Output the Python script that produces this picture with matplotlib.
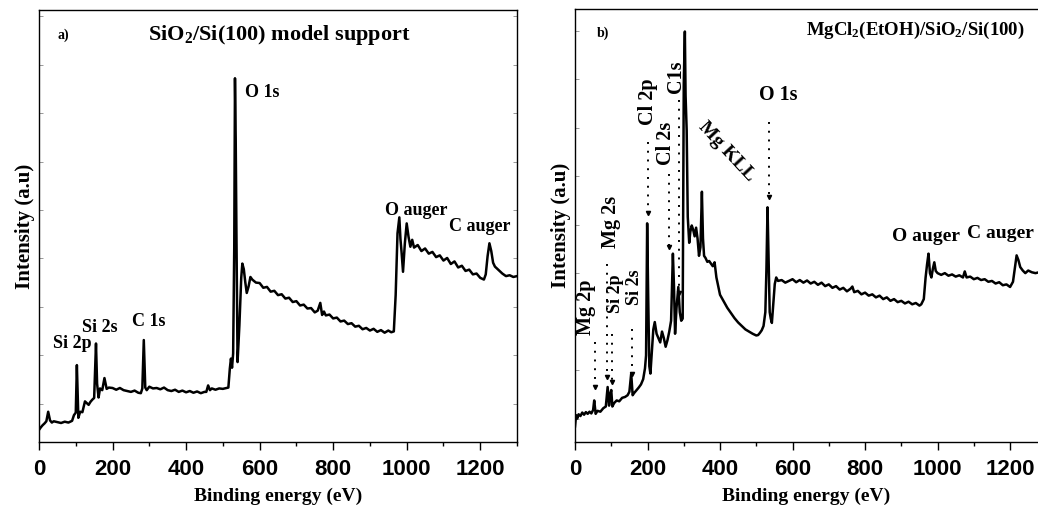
import numpy as np
import matplotlib
matplotlib.use("Agg")
import matplotlib.pyplot as plt
from matplotlib.ticker import MultipleLocator

plt.rcParams["mathtext.fontset"] = "custom"
plt.rcParams["mathtext.default"] = "bf"
plt.rcParams["mathtext.bf"] = "Liberation Serif:bold"

# panel a) SiO2/Si(100): binding energy (eV) / intensity (a.u.)
energy_a = [0, 5, 10, 15, 20, 25, 30, 35, 40, 50,
            60, 70, 80, 90, 95, 100, 103, 107, 112, 118,
            125, 130, 135, 140, 145, 150, 155, 158, 162, 166,
            172, 178, 184, 190, 200, 210, 220, 230, 240, 250,
            260, 270, 277, 281, 285, 289, 293, 300, 310, 320,
            330, 340, 350, 360, 370, 380, 390, 400, 410, 420,
            430, 440, 450, 455, 460, 465, 470, 480, 490, 500,
            510, 515, 519, 522, 525, 528, 531, 533, 535, 537,
            540, 545, 550, 553, 557, 561, 565, 570, 575, 580,
            590, 600, 610, 620, 630, 640, 650, 660, 670, 680,
            690, 700, 710, 720, 730, 740, 750, 758, 765, 770,
            775, 780, 790, 800, 810, 820, 830, 840, 850, 860,
            870, 880, 890, 900, 910, 920, 930, 940, 950, 958,
            965, 970, 975, 980, 983, 986, 990, 995, 1000, 1005,
            1010, 1015, 1020, 1030, 1040, 1050, 1060, 1070, 1080, 1090,
            1100, 1110, 1120, 1130, 1140, 1150, 1160, 1170, 1180, 1190,
            1200, 1205, 1210, 1215, 1220, 1225, 1230, 1235, 1240, 1250,
            1260, 1270, 1280, 1290, 1300]
inten_a = [2.8, 3.4, 3.9, 4.3, 4.8, 7.0, 5.0, 4.5, 4.8, 4.6,
           4.4, 4.7, 4.5, 4.9, 6.2, 6.8, 17.8, 5.6, 7.0, 6.9,
           9.4, 9.0, 8.6, 9.3, 9.8, 10.2, 22.8, 13.5, 10.3, 12.4,
           12.0, 14.8, 12.3, 12.6, 12.5, 12.1, 12.5, 12.0, 11.8, 11.6,
           11.9, 11.4, 11.3, 12.4, 23.6, 12.6, 12.0, 12.8, 12.4, 12.5,
           12.2, 12.6, 12.0, 11.8, 12.1, 11.6, 11.9, 11.5, 11.8, 11.4,
           11.7, 11.3, 11.6, 11.6, 13.1, 12.0, 12.4, 12.1, 12.4, 12.3,
           12.5, 12.6, 17.0, 19.3, 17.2, 20.5, 45.0, 84.2, 70.0, 48.0,
           18.5, 27.0, 38.0, 41.3, 40.0, 37.0, 34.5, 36.0, 38.2, 37.6,
           36.9, 36.8, 35.7, 35.9, 34.8, 35.0, 34.0, 34.2, 33.2, 33.4,
           32.4, 32.6, 31.6, 31.8, 30.9, 31.0, 30.0, 30.4, 32.2, 29.4,
           30.2, 29.3, 29.5, 28.6, 28.8, 27.9, 28.1, 27.3, 27.5, 26.7,
           26.9, 26.1, 26.4, 25.8, 26.2, 25.5, 25.9, 25.3, 25.8, 25.4,
           25.6, 34.0, 48.3, 52.0, 47.0, 44.0, 39.4, 46.0, 50.6, 47.5,
           45.2, 46.8, 45.0, 45.6, 44.2, 44.8, 43.6, 44.0, 42.8, 43.2,
           42.0, 42.6, 41.2, 41.8, 40.4, 40.8, 39.6, 39.9, 38.8, 39.0,
           38.0, 37.8, 37.6, 38.8, 43.0, 46.0, 44.2, 41.5, 40.6, 39.8,
           39.0, 38.4, 38.6, 38.2, 38.4]

# panel b) MgCl2(EtOH)/SiO2/Si(100)
energy_b = [0, 3, 6, 10, 15, 20, 25, 30, 35, 40,
            45, 50, 53, 57, 62, 70, 78, 85, 90, 94,
            97, 100, 103, 108, 115, 122, 130, 138, 145, 150,
            155, 159, 163, 170, 176, 182, 188, 193, 196, 199,
            202, 205, 208, 212, 216, 220, 225, 230, 235, 240,
            245, 250, 255, 260, 265, 270, 273, 276, 280, 285,
            289, 293, 297, 300, 303, 305, 308, 311, 315, 318,
            322, 326, 330, 334, 338, 342, 346, 350, 353, 356,
            360, 365, 370, 375, 380, 385, 390, 395, 400, 410,
            420, 430, 440, 450, 460, 470, 480, 490, 500, 505,
            510, 515, 520, 525, 528, 531, 534, 537, 540, 543,
            547, 551, 555, 560, 570, 580, 590, 600, 610, 620,
            630, 640, 650, 660, 670, 680, 690, 700, 710, 720,
            730, 740, 750, 760, 765, 770, 780, 790, 800, 810,
            820, 830, 840, 850, 860, 870, 880, 890, 900, 910,
            920, 930, 940, 950, 955, 962, 967, 971, 975, 979,
            983, 987, 991, 995, 1000, 1010, 1020, 1030, 1040, 1050,
            1060, 1070, 1075, 1080, 1090, 1100, 1110, 1120, 1130, 1140,
            1150, 1160, 1170, 1180, 1190, 1200, 1208, 1213, 1218, 1223,
            1228, 1235, 1242, 1250, 1260, 1270, 1280]
inten_b = [3.6, 6.2, 5.4, 6.4, 6.0, 6.8, 6.3, 6.9, 6.5, 7.0,
           6.6, 7.4, 9.6, 6.5, 7.2, 7.0, 7.8, 8.2, 12.7, 8.4,
           11.0, 12.0, 8.2, 9.0, 9.6, 9.4, 10.2, 10.4, 10.8, 11.6,
           15.8, 10.8, 11.3, 12.0, 12.6, 13.3, 14.5, 17.0, 20.0, 50.5,
           33.0, 17.5, 15.8, 21.0, 26.0, 27.7, 25.0, 24.0, 23.0, 25.5,
           24.0, 22.0, 23.5, 25.5, 28.0, 43.5, 36.0, 25.0, 31.0, 35.8,
           30.0, 28.0, 28.5, 82.8, 94.8, 80.0, 72.0, 52.0, 46.0, 48.5,
           50.0, 49.0, 47.5, 49.5, 47.0, 43.0, 45.0, 57.8, 47.0, 43.0,
           42.5, 41.6, 41.8, 41.2, 40.6, 41.5, 38.0, 36.0, 34.0, 32.5,
           31.0, 29.8, 28.6, 27.6, 26.8, 26.0, 25.5, 25.0, 24.6, 24.7,
           25.2, 25.8, 26.8, 30.0, 40.0, 54.2, 42.0, 30.0, 28.5, 27.5,
           32.0, 36.5, 38.0, 37.2, 37.4, 36.8, 37.2, 37.6, 36.9, 37.4,
           36.8, 37.3, 36.6, 37.0, 36.3, 36.8, 36.0, 36.4, 35.6, 36.0,
           35.2, 35.6, 34.8, 35.4, 35.9, 34.6, 34.9, 34.1, 34.5, 33.8,
           34.1, 33.4, 33.8, 33.0, 33.4, 32.6, 33.0, 32.3, 32.6, 32.0,
           32.4, 31.8, 32.1, 31.5, 31.8, 33.0, 38.0, 41.0, 43.5, 39.0,
           38.0, 40.0, 41.5, 39.5, 39.0, 38.6, 39.0, 38.4, 38.7, 38.2,
           38.5, 38.0, 39.4, 38.0, 38.2, 37.6, 37.9, 37.4, 37.6, 37.0,
           37.2, 36.6, 36.9, 36.2, 36.4, 35.8, 37.0, 40.0, 43.1, 42.0,
           40.4, 39.6, 39.0, 39.6, 39.2, 39.0, 39.2]

labels_a = ["Si 2p", "Si 2s", "C 1s", "O 1s", "O auger", "C auger"]
label_pos_a = [(90, 22.8), (165, 26.6), (298, 27.8), (606, 81.0), (1026, 53.7), (1198, 49.8)]

# panel b markers: name, energy, dotted line top / bottom, label position, rotation, size
marks_b = ["Mg 2p", "Mg 2s", "Si 2p", "Si 2s", "Cl 2p", "Cl 2s", "C1s", "O 1s"]
mark_e_b = [55, 89, 102, 156, 200, 260, 288, 536]
mark_top_b = [23.1, 41.2, 25.0, 26.2, 69.3, 62.0, 79.0, 74.0]
mark_bot_b = [12.7, 15.0, 13.9, 15.8, 52.8, 45.0, 34.3, 56.6]
mark_lab_b = [(30, 31.2), (98, 50.8), (112, 34.3), (165, 35.8), (200, 78.6), (250, 69.0), (279, 84.4), (561, 80.1)]
mark_rot_b = [90, 90, 90, 90, 90, 90, 90, 0]
mark_size_b = [14.5, 14.5, 13, 13, 14.5, 14.5, 14.5, 14.5]

serif = "Liberation Serif"
sans = "Liberation Sans"

fig = plt.figure(figsize=(10.38, 5.14), dpi=100)
ax1 = fig.add_axes([39 / 1038, 72 / 514, 478 / 1038, 432 / 514])
ax2 = fig.add_axes([575 / 1038, 72 / 514, 463 / 1038, 433 / 514])


def style(ax, xmax):
    ax.set_xlim(0, xmax)
    ax.set_ylim(0, 100)
    ax.xaxis.set_major_locator(MultipleLocator(200))
    ax.xaxis.set_minor_locator(MultipleLocator(100))
    ax.tick_params(axis="x", which="major", direction="out", length=6, width=1, pad=6)
    ax.tick_params(axis="x", which="minor", direction="out", length=3, width=1)
    ax.tick_params(axis="y", which="both", direction="in", length=3, width=0.6,
                   labelleft=False, colors="#888888")
    for lab in ax.get_xticklabels():
        lab.set_fontfamily(sans)
        lab.set_fontweight("bold")
        lab.set_fontsize(16)
    for sp in ax.spines.values():
        sp.set_linewidth(1.0)
    ax.set_xlabel("Binding energy (eV)", fontfamily=serif, fontweight="bold", fontsize=14, labelpad=6)
    ax.set_ylabel("Intensity (a.u)", fontfamily=serif, fontweight="bold", fontsize=15, labelpad=3)


ax1.plot(energy_a, inten_a, color="black", lw=1.8)
style(ax1, 1300)
ax1.set_yticks(np.arange(8.9, 100, 11.2))
ax1.tick_params(axis="y", right=True)
ax1.text(65, 94.2, "a)", fontfamily=serif, fontweight="bold", fontsize=10, ha="center", va="center")
ax1.text(653, 94.2, "SiO$_2$/Si(100) model support", fontfamily=serif, fontweight="bold", fontsize=16,
         ha="center", va="center")
for name, (x, y) in zip(labels_a, label_pos_a):
    ax1.text(x, y, name, fontfamily=serif, fontweight="bold", fontsize=13, ha="center", va="center")

ax2.plot(energy_b, inten_b, color="black", lw=1.8)
style(ax2, 1277)
ax2.set_yticks(np.arange(5.4, 100, 11.2))
ax2.spines["right"].set_visible(False)
ax2.text(78, 94.4, "b)", fontfamily=serif, fontweight="bold", fontsize=10, ha="center", va="center")
ax2.text(938, 95.1, "MgCl$_2$(EtOH)/SiO$_2$/Si(100)", fontfamily=serif, fontweight="bold", fontsize=13.5,
         ha="center", va="center")
for name, e, top, bot, (lx, ly), rot, fs in zip(marks_b, mark_e_b, mark_top_b, mark_bot_b,
                                                mark_lab_b, mark_rot_b, mark_size_b):
    ax2.plot([e, e], [top, bot], color="black", lw=1.4, ls=(0, (1, 3.5)))
    ax2.plot([e], [bot], marker="v", ms=3, color="black")
    ax2.text(lx, ly, name, fontfamily=serif, fontweight="bold", fontsize=fs, rotation=rot,
             ha="center", va="center")
ax2.text(418, 67, "Mg KLL", fontfamily=serif, fontweight="bold", fontsize=14, rotation=-47,
         ha="center", va="center")
ax2.text(968, 47.4, "O auger", fontfamily=serif, fontweight="bold", fontsize=14, ha="center", va="center")
ax2.text(1174, 48.2, "C auger", fontfamily=serif, fontweight="bold", fontsize=14, ha="center", va="center")

fig.savefig("out.png", dpi=100)
